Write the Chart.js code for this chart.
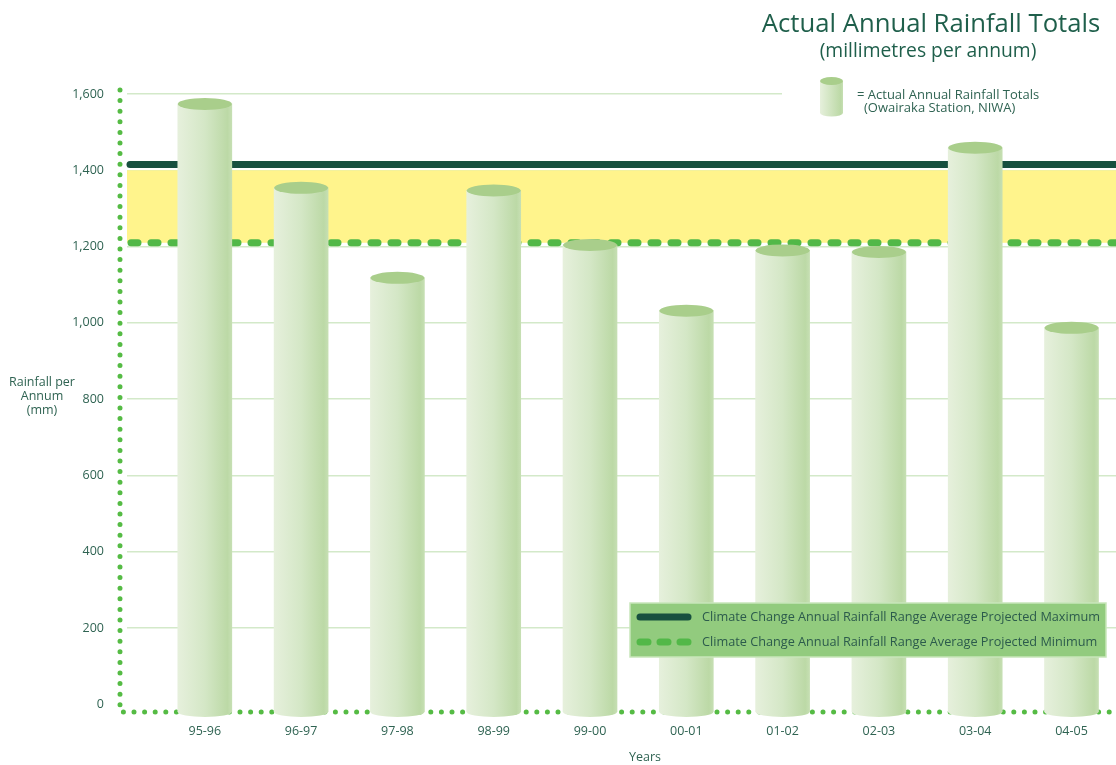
<!DOCTYPE html>
<html>
<head>
<meta charset="utf-8">
<script src="https://cdn.jsdelivr.net/npm/chart.js@4.4.1/dist/chart.umd.min.js"></script>
<style>
  html, body { margin: 0; padding: 0; background: #fff; }
  #wrap { width: 1116px; height: 765px; position: relative; }
</style>
</head>
<body>
<div id="wrap"><canvas id="rainChart"></canvas></div>
<script>
// rainfall data (mm per annum)
var years = ['95-96', '96-97', '97-98', '98-99', '99-00', '00-01', '01-02', '02-03', '03-04', '04-05'];
var rainfall = [1574, 1354, 1118, 1347, 1204, 1032, 1190, 1186, 1459, 987];
var yTicks = [0, 200, 400, 600, 800, 1000, 1200, 1400, 1600];
var projectedMax = 1415;
var projectedMin = 1210;

var textColor = '#2f6352';
var fontName = '"Open Sans", "Noto Sans", sans-serif';

function barGradient(ctx) {
    var chart = ctx.chart;
    var xs = chart.scales.x;
    if (!xs || !ctx.parsed) return '#d3e6c5';
    var cx = xs.getPixelForValue(ctx.parsed.x);
    if (!isFinite(cx)) return '#d3e6c5';
    var g = chart.ctx.createLinearGradient(cx - 27, 0, cx + 27, 0);
    g.addColorStop(0, '#e6f0dc');
    g.addColorStop(0.5, '#d4e7c6');
    g.addColorStop(0.92, '#bcd9a6');
    g.addColorStop(1, '#c6dfb3');
    return g;
}

var rainPlugin = {
    id: 'rainPlugin',
    beforeDatasetsDraw: function (chart) {
        var ctx = chart.ctx;
        var area = chart.chartArea;
        var y = chart.scales.y;
        ctx.save();
        // top grid line stops short of the legend
        ctx.fillStyle = '#fff';
        ctx.fillRect(782, y.getPixelForValue(1600) - 3, area.right - 782, 6);

        // projected range band
        ctx.fillStyle = '#fff48c';
        ctx.fillRect(area.left, y.getPixelForValue(1400), area.right - area.left,
            y.getPixelForValue(projectedMin) - y.getPixelForValue(1400));

        ctx.lineCap = 'round';
        ctx.lineWidth = 7;
        ctx.strokeStyle = '#17503f';
        ctx.beginPath();
        ctx.moveTo(area.left + 3, y.getPixelForValue(projectedMax));
        ctx.lineTo(area.right + 5, y.getPixelForValue(projectedMax));
        ctx.stroke();

        ctx.setLineDash([7, 13]);
        ctx.strokeStyle = '#52b848';
        ctx.beginPath();
        ctx.moveTo(area.left + 4, y.getPixelForValue(projectedMin));
        ctx.lineTo(area.right + 5, y.getPixelForValue(projectedMin));
        ctx.stroke();

        // dotted axes
        ctx.setLineDash([0, 10.6]);
        ctx.lineWidth = 5;
        ctx.strokeStyle = '#55bb44';
        ctx.beginPath();
        ctx.moveTo(area.left - 7, area.top - 4);
        ctx.lineTo(area.left - 7, area.bottom);
        ctx.lineTo(area.right + 5, area.bottom);
        ctx.stroke();
        ctx.restore();
    },
    afterDatasetsDraw: function (chart) {
        var ctx = chart.ctx;
        var meta = chart.getDatasetMeta(0);
        ctx.save();
        meta.data.forEach(function (bar) {
            var p = bar.getProps(['x', 'y', 'base', 'width'], true);
            var rx = p.width / 2;
            // rounded bottom
            ctx.fillStyle = bar.options.backgroundColor;
            ctx.beginPath();
            ctx.ellipse(p.x, p.base, rx, 5, 0, 0, Math.PI);
            ctx.fill();
            // top cap
            ctx.fillStyle = '#a9ce8b';
            ctx.beginPath();
            ctx.ellipse(p.x, p.y, rx, 6, 0, 0, Math.PI * 2);
            ctx.fill();
        });
        ctx.restore();
    },
    afterDraw: function (chart) {
        var ctx = chart.ctx;
        ctx.save();
        ctx.fillStyle = '#1f5f4b';
        ctx.textAlign = 'center';
        ctx.textBaseline = 'middle';
        ctx.font = '25.7px ' + fontName;
        ctx.fillText('Actual Annual Rainfall Totals', 931, 25);
        ctx.font = '19.3px ' + fontName;
        ctx.fillText('(millimetres per annum)', 928, 52);

        // cylinder key
        var g = ctx.createLinearGradient(820, 0, 843, 0);
        g.addColorStop(0, '#e6f0dc');
        g.addColorStop(0.9, '#bcd9a6');
        g.addColorStop(1, '#c6dfb3');
        ctx.fillStyle = g;
        ctx.fillRect(820, 81, 23, 32);
        ctx.beginPath();
        ctx.ellipse(831.5, 113, 11.5, 3.5, 0, 0, Math.PI);
        ctx.fill();
        ctx.fillStyle = '#a9ce8b';
        ctx.beginPath();
        ctx.ellipse(831.5, 81, 11.5, 4, 0, 0, Math.PI * 2);
        ctx.fill();

        ctx.fillStyle = textColor;
        ctx.textAlign = 'left';
        ctx.font = '13px ' + fontName;
        ctx.fillText('= Actual Annual Rainfall Totals', 857, 95);
        ctx.fillText('(Owairaka Station, NIWA)', 864, 108);

        // axis titles
        ctx.textAlign = 'center';
        ctx.font = '12.5px ' + fontName;
        ctx.fillText('Rainfall per', 42, 382);
        ctx.fillText('Annum', 42, 396);
        ctx.fillText('(mm)', 42, 410);
        ctx.fillText('Years', 645, 757);

        // projected range key
        ctx.fillStyle = '#92cb7e';
        ctx.fillRect(630, 603, 476, 54);
        ctx.strokeStyle = '#c8e6ba';
        ctx.lineWidth = 1.5;
        ctx.strokeRect(630, 603, 476, 54);

        ctx.lineCap = 'round';
        ctx.lineWidth = 7;
        ctx.strokeStyle = '#17503f';
        ctx.beginPath();
        ctx.moveTo(640, 617);
        ctx.lineTo(688, 617);
        ctx.stroke();
        ctx.setLineDash([8, 12]);
        ctx.strokeStyle = '#52b848';
        ctx.beginPath();
        ctx.moveTo(640, 642);
        ctx.lineTo(690, 642);
        ctx.stroke();
        ctx.setLineDash([]);

        ctx.fillStyle = '#2c5b4c';
        ctx.textAlign = 'left';
        ctx.font = '12.7px ' + fontName;
        ctx.fillText('Climate Change Annual Rainfall Range Average Projected Maximum', 702, 617);
        ctx.fillText('Climate Change Annual Rainfall Range Average Projected Minimum', 702, 642);
        ctx.restore();
    }
};

var chart = new Chart(document.getElementById('rainChart'), {
    type: 'bar',
    data: {
        datasets: [{
            label: 'Actual Annual Rainfall Totals',
            data: years.map(function (yr, i) { return { x: i, y: rainfall[i] }; }),
            backgroundColor: barGradient,
            borderWidth: 0,
            barThickness: 54,
            base: -20
        }]
    },
    plugins: [rainPlugin],
    options: {
        responsive: true,
        maintainAspectRatio: false,
        animation: false,
        layout: { padding: { top: 94, right: 0, bottom: 0, left: 0 } },
        plugins: {
            legend: { display: false },
            tooltip: { enabled: false }
        },
        scales: {
            x: {
                type: 'linear',
                offset: false,
                min: -0.808,
                max: 9.462,
                afterFit: function (s) { s.height = 53; },
                afterBuildTicks: function (s) {
                    s.ticks = years.map(function (yr, i) { return { value: i }; });
                },
                ticks: {
                    autoSkip: false,
                    maxRotation: 0,
                    padding: 4,
                    color: textColor,
                    font: { family: fontName, size: 12.5 },
                    callback: function (v) { return years[v]; }
                },
                grid: { display: false },
                border: { display: false }
            },
            y: {
                min: -20,
                max: 1600,
                afterFit: function (s) { s.width = 127; },
                afterBuildTicks: function (s) {
                    s.ticks = yTicks.map(function (v) { return { value: v }; });
                },
                ticks: {
                    padding: 23,
                    color: textColor,
                    font: { family: fontName, size: 12.5 },
                    callback: function (v) { return v.toLocaleString('en-US'); }
                },
                grid: {
                    color: function (c) { return c.tick && c.tick.value === 0 ? 'rgba(0,0,0,0)' : '#d3e9c9'; },
                    lineWidth: 1.5,
                    drawTicks: false
                },
                border: { display: false }
            }
        }
    }
});
</script>
</body>
</html>
